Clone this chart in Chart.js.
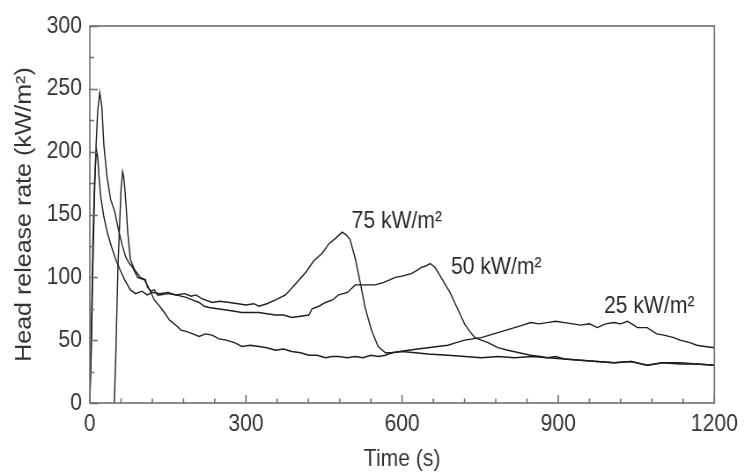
<!DOCTYPE html>
<html><head><meta charset="utf-8">
<script src="https://cdn.jsdelivr.net/npm/chart.js@4/dist/chart.umd.min.js"></script>
<style>
html,body{margin:0;padding:0;background:#fff;overflow:hidden;width:744px;height:474px;}
#c{display:block;width:845px;height:474px;transform:scaleX(0.8805);transform-origin:0 0;}
</style>
</head><body>
<canvas id="c" width="845" height="474"></canvas>
<script>
// ---- data (time in s, heat release rate in kW/m2) ----
const t75 = [0,3,6,9,11,13,15,18,21,27,34,42,50,58,67,78,88,100,110,120,134,150,165,182,195,204,215,235,250,268,285,300,315,325,340,357,376,396,415,430,446,460,472,485,492,500,510,520,529,541,554,568,580,600,625,650,688,720,752,785,816,850,879,912,943,975,1007,1040,1071,1100,1134,1166,1200];
const v75 = [0,60,130,175,192,201,196,178,164,148,135,124,114,106,98,90,87,89,86,88,87,88,86,87,85,86,83,80,81,80,79,78,79,77,79,82,86,95,104,113,119,127,131,136,134,130,115,95,76,58,45,40,40,41,40,39,38,37,36,37,36,37,36,35,34,33,32,33,30,32,32,31,30];

const t50 = [47,50,52,54,57,60,63,65,67,70,73,78,86,97,107,111,118,124,130,134,150,165,185,197,210,220,229,245,262,278,292,308,325,340,357,372,388,405,421,427,440,453,466,478,495,510,530,548,565,587,600,618,630,637,645,654,663,672,682,692,701,710,720,730,740,752,765,784,803,825,847,865,879,895,912,943,975,1007,1040,1071,1100,1134,1166,1200];
const v50 = [0,40,74,108,140,170,184,180,172,155,135,114,106,100,98,92,89,90,86,86,87,86,84,82,80,77,76,75,74,73,72,72,72,71,70,70,68,69,70,75,77,80,82,86,88,94,94,94,96,100,101,103,106,108,109,111,108,102,95,88,80,72,63,57,52,50,48,44,42,40,38,37,36,37,35,34,33,32,33,30,32,31,31,30];

const t25 = [0,3,6,9,12,15,19,23,27,33,40,48,55,62,69,76,82,92,105,115,124,136,145,153,165,175,185,198,210,222,235,248,262,278,292,308,325,340,357,372,388,405,421,437,453,466,478,495,510,525,540,555,568,580,596,612,630,650,668,688,704,720,736,752,768,784,800,816,832,847,863,879,895,912,928,943,960,975,991,1007,1020,1033,1045,1052,1071,1089,1103,1122,1134,1153,1166,1182,1200];
const v25 = [0,45,110,165,205,232,247,236,205,180,162,152,138,126,116,111,108,100,98,90,82,76,71,66,62,58,57,55,53,55,54,51,50,48,45,46,45,44,42,43,41,40,38,38,36,37,37,36,37,36,38,37,38,40,41,42,43,44,45,46,48,50,51,52,54,56,58,60,62,64,63,64,65,64,63,62,63,60,63,64,63,65,62,60,60,55,54,52,50,48,46,45,44];

// curve labels and their anchor (data coords: left edge / baseline)
const curveLabels = ['75 kW/m\u00B2', '50 kW/m\u00B2', '25 kW/m\u00B2'];
const labelT = [503, 694, 988];
const labelV = [139, 103, 72];

// axes
const xTickLabels = [0, 300, 600, 900, 1200];
const xMinorTicks = [60,120,180,240,360,420,480,540,660,720,780,840,960,1020,1080,1140];
const yTickLabels = [0, 50, 100, 150, 200, 250, 300];
const yMinorTicks = [25, 75, 125, 175, 225, 275];
const xTitle = 'Time (s)';
const yTitle = 'Head release rate (kW/m\u00B2)';

const FONT = "'Liberation Sans', Arial, Helvetica, sans-serif";
const pts = (t, v) => t.map((x, i) => ({x: x, y: v[i]}));

const frameTicks = {
  id: 'frameTicks',
  afterDraw(chart) {
    const {ctx, chartArea: a, scales: {x, y}} = chart;
    ctx.save();
    ctx.strokeStyle = '#6e6e6e';
    ctx.lineWidth = 1.6;
    ctx.strokeRect(a.left, a.top, a.right - a.left, a.bottom - a.top);
    ctx.beginPath();
    xTickLabels.forEach(v => { const p = x.getPixelForValue(v); ctx.moveTo(p, a.bottom); ctx.lineTo(p, a.bottom - 8); });
    xMinorTicks.forEach(v => { const p = x.getPixelForValue(v); ctx.moveTo(p, a.bottom); ctx.lineTo(p, a.bottom - 4.5); });
    yTickLabels.forEach(v => { const p = Math.round(y.getPixelForValue(v)) + 0.5; ctx.moveTo(a.left, p); ctx.lineTo(a.left + 9, p); });
    yMinorTicks.forEach(v => { const p = Math.round(y.getPixelForValue(v)) + 0.5; ctx.moveTo(a.left, p); ctx.lineTo(a.left + 5, p); });
    ctx.stroke();
    ctx.fillStyle = '#2a2a2a';
    ctx.font = '24px ' + FONT;
    ctx.textBaseline = 'alphabetic';
    ctx.textAlign = 'left';
    curveLabels.forEach((s, i) => {
      ctx.fillText(s, x.getPixelForValue(labelT[i]), y.getPixelForValue(labelV[i]));
    });
    ctx.restore();
  }
};

new Chart(document.getElementById('c'), {
  type: 'line',
  data: {
    datasets: [
      {label: '75 kW/m2', data: pts(t75, v75)},
      {label: '50 kW/m2', data: pts(t50, v50)},
      {label: '25 kW/m2', data: pts(t25, v25)}
    ]
  },
  options: {
    responsive: false,
    animation: false,
    devicePixelRatio: 1,
    layout: {padding: {top: 26, right: 30, left: 0, bottom: 0}},
    plugins: {legend: {display: false}, tooltip: {enabled: false}},
    elements: {
      point: {radius: 0},
      line: {borderWidth: 1.4, borderColor: '#1e1e1e', tension: 0, fill: false}
    },
    scales: {
      x: {
        type: 'linear', min: 0, max: 1200,
        afterBuildTicks: s => { s.ticks = xTickLabels.map(v => ({value: v})); },
        grid: {display: false, drawTicks: false},
        border: {display: false},
        ticks: {padding: 7, color: '#333', font: {family: FONT, size: 24}, maxRotation: 0, autoSkip: false, callback: v => String(v)},
        title: {display: true, text: xTitle, color: '#333', font: {family: FONT, size: 24}, padding: {top: 0, bottom: 0}},
        afterFit: s => { s.height = 71; }
      },
      y: {
        type: 'linear', min: 0, max: 300,
        afterBuildTicks: s => { s.ticks = yTickLabels.map(v => ({value: v})); },
        grid: {display: false, drawTicks: false},
        border: {display: false},
        ticks: {padding: 9, color: '#333', font: {family: FONT, size: 24}, autoSkip: false, callback: v => String(v)},
        title: {display: true, text: yTitle, color: '#333', font: {family: FONT, size: 25}, padding: {top: 13, bottom: 0}},
        afterFit: s => { s.width = 102; }
      }
    }
  },
  plugins: [frameTicks]
});
</script>
</body></html>
